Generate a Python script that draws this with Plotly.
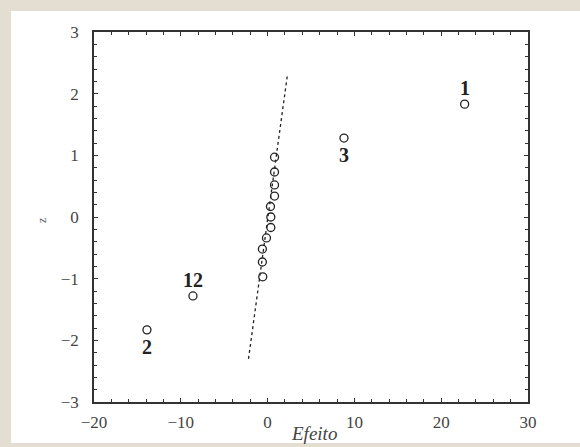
import plotly.graph_objects as go

# Effects (x) and normal quantiles (z)
efeito = [-13.9, -8.6, -0.56, -0.6, -0.6, -0.13, 0.37, 0.37, 0.33, 0.8, 0.8, 0.8, 0.8, 8.8, 22.7]
z = [-1.83, -1.28, -0.97, -0.73, -0.52, -0.34, -0.17, 0.0, 0.17, 0.34, 0.52, 0.73, 0.97, 1.28, 1.83]

line_x = [-2.2, 2.3]
line_z = [-2.3, 2.32]

labels = ["2", "12", "3", "1"]
label_x = [-13.9, -8.6, 8.8, 22.7]
label_z = [-1.83, -1.28, 1.28, 1.83]
label_pos = ["below", "above", "below", "above"]

x_ticks = [-20, -10, 0, 10, 20, 30]
y_ticks = [-3, -2, -1, 0, 1, 2, 3]

serif = "Liberation Serif"
ink = "#222222"
beige = "#e4ded2"

fig = go.Figure()
fig.add_trace(go.Scatter(x=line_x, y=line_z, mode="lines",
                         line=dict(color=ink, width=1.3, dash="dot"),
                         hoverinfo="skip", showlegend=False))
fig.add_trace(go.Scatter(x=efeito, y=z, mode="markers",
                         marker=dict(symbol="circle-open", size=8, color=ink,
                                     line=dict(width=1.3, color=ink)),
                         showlegend=False))

for t, lx, lz, pos in zip(labels, label_x, label_z, label_pos):
    fig.add_annotation(x=lx, y=lz, text="<b>%s</b>" % t, showarrow=False,
                       xref="x", yref="y",
                       yshift=(-17 if pos == "below" else 16),
                       font=dict(family=serif, size=20, color=ink))

# Titles
fig.add_annotation(text="<i>Efeito</i>", xref="paper", yref="paper",
                   x=0.507, y=-0.084, showarrow=False, yanchor="middle",
                   font=dict(family=serif, size=19, color="#444"))
fig.add_annotation(text="z", xref="paper", yref="paper", textangle=-90,
                   x=-0.142, y=0.49, showarrow=False,
                   font=dict(family=serif, size=12, color="#555"))

# beige frame with white panel
fig.add_shape(type="rect", xref="paper", yref="paper",
              x0=-0.191, x1=1.2, y0=-0.111, y1=1.057,
              fillcolor="white", line=dict(width=0), layer="below")

axis_common = dict(showgrid=False, zeroline=False, showline=True, linecolor="#333",
                   linewidth=1.5, mirror="ticks", ticks="inside", ticklen=4,
                   tickwidth=1.2, tickcolor="#333",
                   tickfont=dict(family=serif, size=17, color="#444"))

fig.update_xaxes(range=[-20, 30], tickvals=x_ticks, ticklabelstandoff=4,
                 minor=dict(dtick=2, ticks="inside", ticklen=3, tickcolor="#333", showgrid=False),
                 **axis_common)
fig.update_yaxes(range=[-3, 3], tickvals=y_ticks, ticklabelstandoff=10,
                 minor=dict(dtick=0.2, ticks="inside", ticklen=3, tickcolor="#333", showgrid=False),
                 **axis_common)

fig.update_layout(width=580, height=447,
                  margin=dict(l=94, r=52, t=32, b=45),
                  paper_bgcolor=beige, plot_bgcolor="white",
                  showlegend=False, hovermode=False)

fig.write_html("out.html", config={"displayModeBar": False},
               post_script="document.body.style.margin='0';"
                           "document.body.style.background='%s';" % beige)
